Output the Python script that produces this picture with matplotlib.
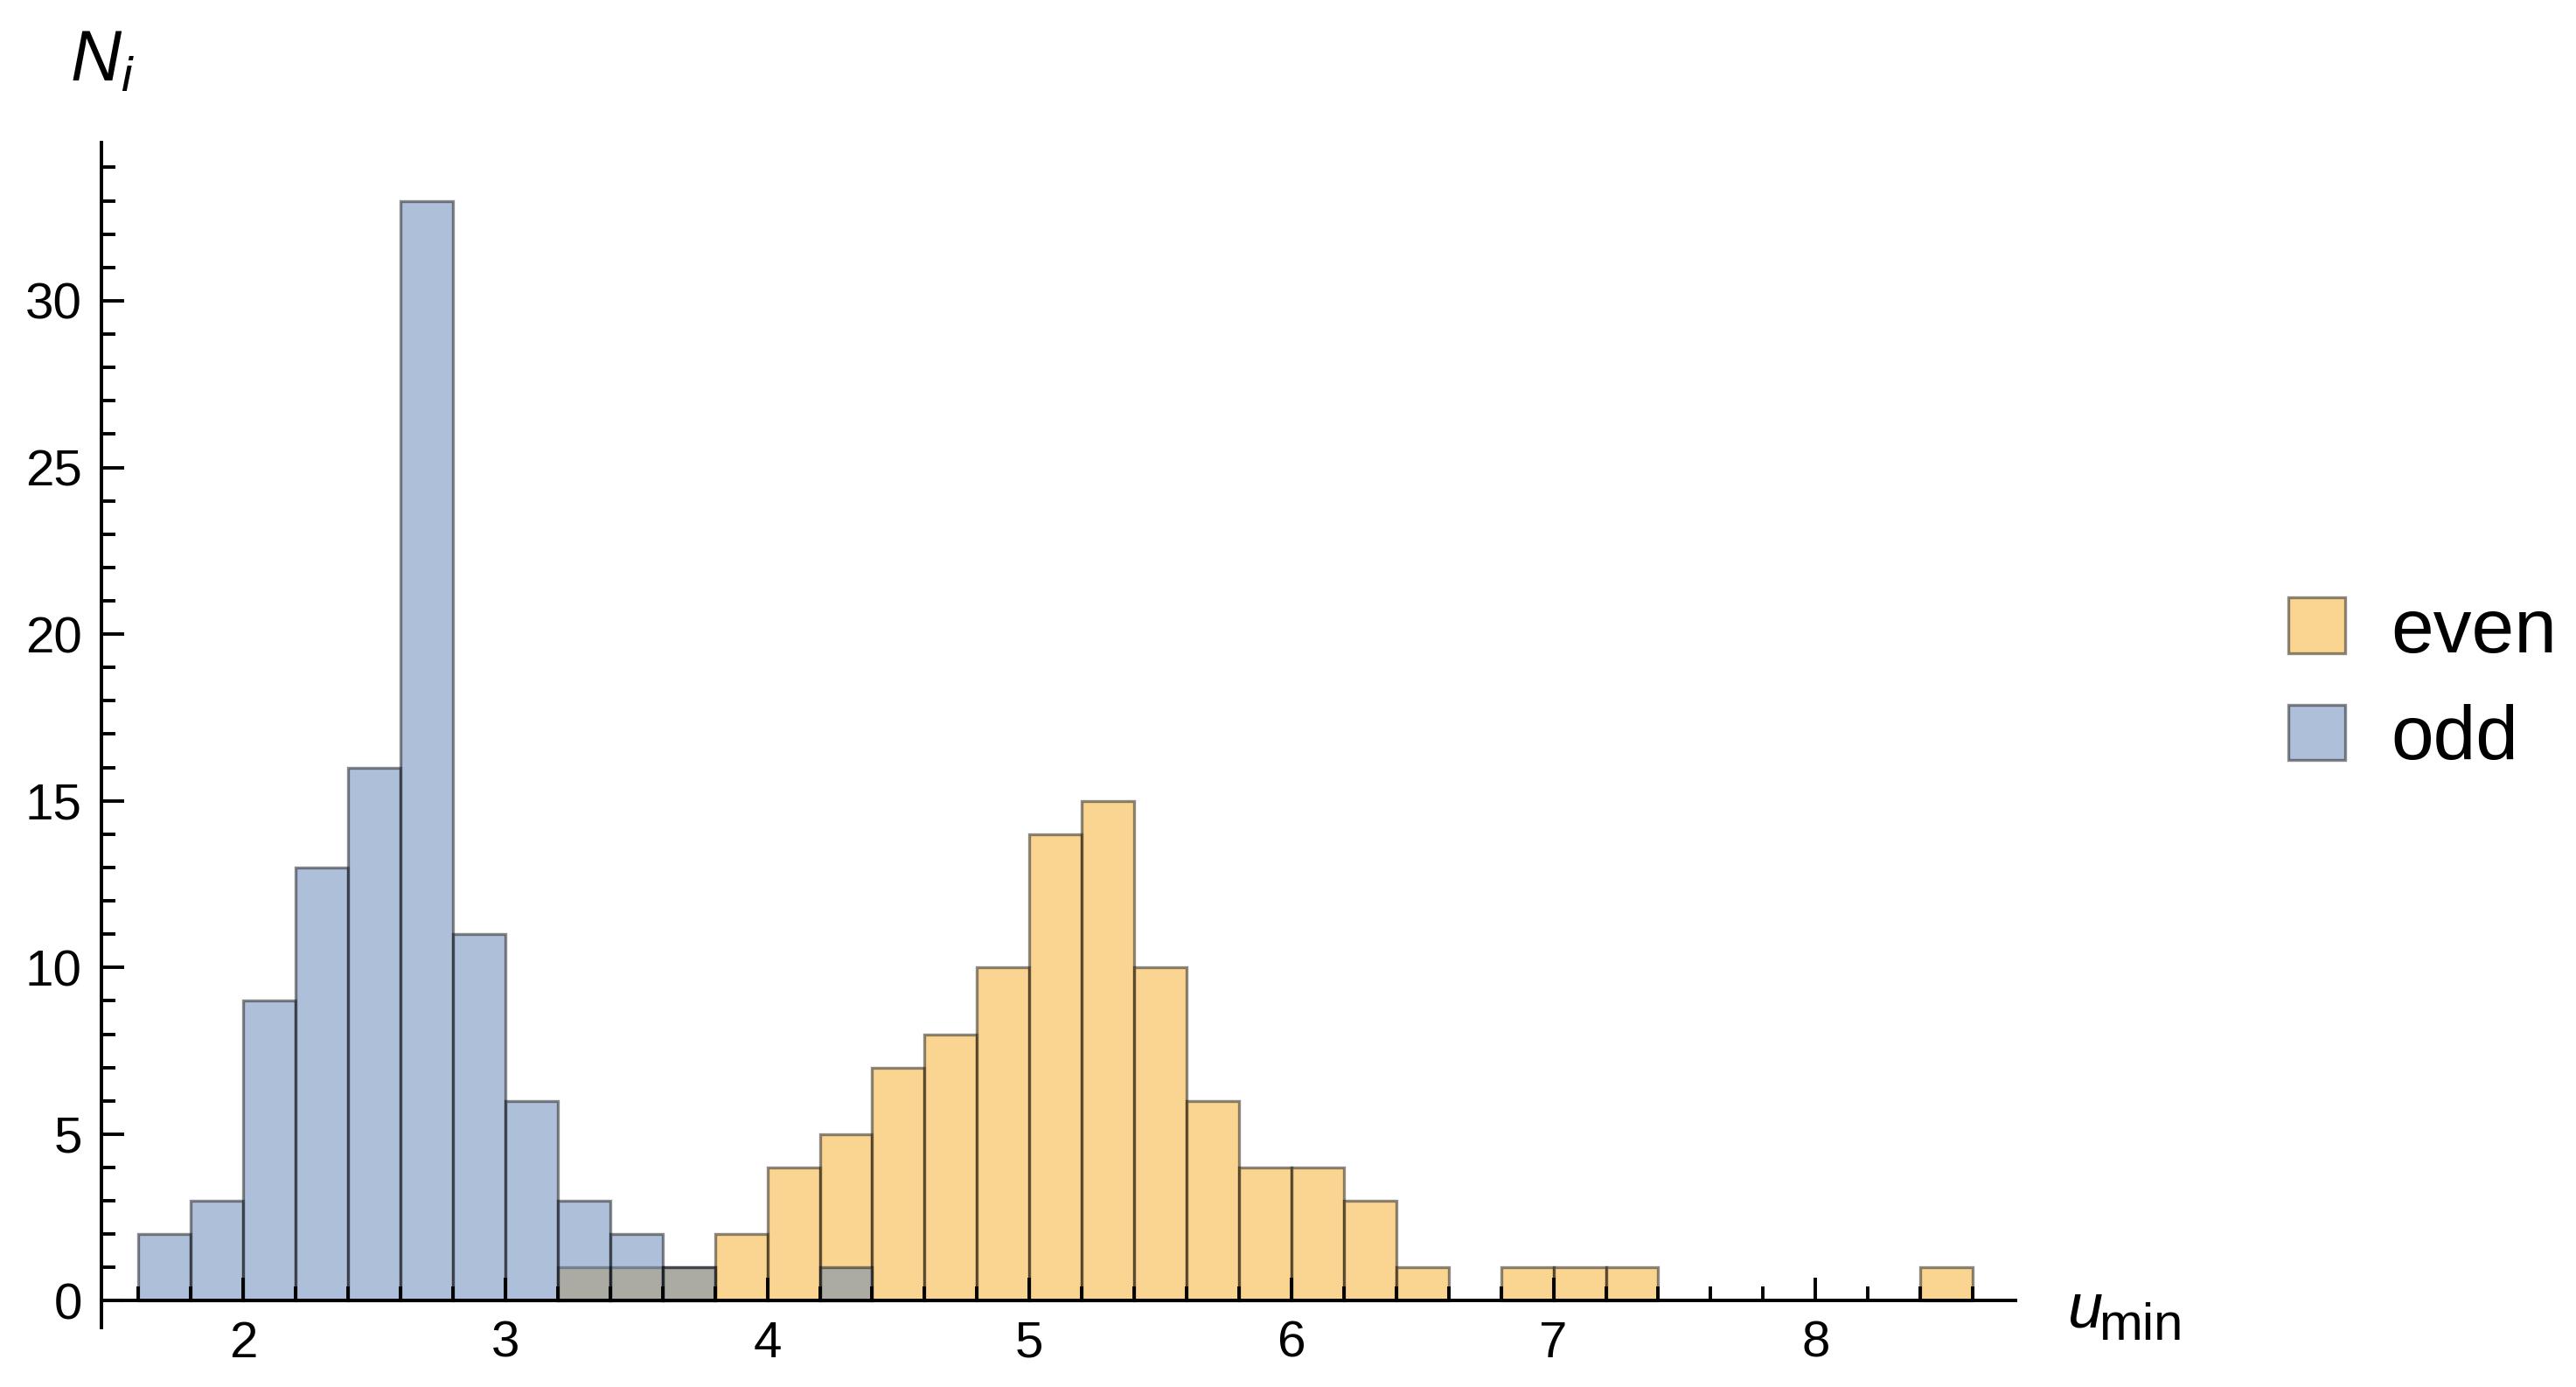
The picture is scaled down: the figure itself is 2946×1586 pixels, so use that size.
import numpy as np
import matplotlib
matplotlib.use("Agg")
import matplotlib.pyplot as plt
from matplotlib.ticker import MultipleLocator, FixedLocator
from matplotlib.patches import Patch

# ---- data ----
bin_width = 0.2
odd_bin_left = [1.6, 1.8, 2.0, 2.2, 2.4, 2.6, 2.8, 3.0, 3.2, 3.4, 3.6, 4.2]
odd_counts = [2, 3, 9, 13, 16, 33, 11, 6, 3, 2, 1, 1]
even_bin_left = [3.2, 3.4, 3.6, 3.8, 4.0, 4.2, 4.4, 4.6, 4.8, 5.0, 5.2, 5.4,
                 5.6, 5.8, 6.0, 6.2, 6.4, 6.8, 7.0, 7.2, 8.4]
even_counts = [1, 1, 1, 2, 4, 5, 7, 8, 10, 14, 15, 10,
               6, 4, 4, 3, 1, 1, 1, 1, 1]
legend_labels = ["even", "odd"]
x_ticks = [2, 3, 4, 5, 6, 7, 8]
y_ticks = [0, 5, 10, 15, 20, 25, 30]

plt.rcParams['font.family'] = ['Liberation Sans', 'DejaVu Sans']
plt.rcParams['mathtext.fontset'] = 'custom'
plt.rcParams['mathtext.rm'] = 'Liberation Sans'
plt.rcParams['mathtext.it'] = 'Liberation Sans:italic'

DPI = 200
fig = plt.figure(figsize=(2946 / DPI, 1586 / DPI), dpi=DPI)
ax = fig.add_axes([0.0394, 0.0429, 0.743, 0.8544])

blue_face = (94 / 255, 129 / 255, 181 / 255, 0.5)
orange_face = (247 / 255, 173 / 255, 37 / 255, 0.5)
edge = (0.0, 0.0, 0.0, 0.45)
elw = 1.2

ax.bar(even_bin_left, even_counts, width=bin_width, align='edge',
       facecolor=orange_face, edgecolor=edge, linewidth=elw)
ax.bar(odd_bin_left, odd_counts, width=bin_width, align='edge',
       facecolor=blue_face, edgecolor=edge, linewidth=elw)

ax.set_xlim(1.459, 8.763)
ax.set_ylim(-0.8, 34.75)

for s in ['top', 'right']:
    ax.spines[s].set_visible(False)
ax.spines['bottom'].set_position(('data', 0))
for s in ['left', 'bottom']:
    ax.spines[s].set_linewidth(1.4)

ax.xaxis.set_major_locator(FixedLocator(x_ticks))
ax.xaxis.set_minor_locator(MultipleLocator(0.2))
ax.yaxis.set_major_locator(FixedLocator(y_ticks))
ax.yaxis.set_minor_locator(MultipleLocator(1))
ax.tick_params(axis='both', which='both', direction='in', width=1.4)
ax.tick_params(axis='both', which='major', length=9.2)
ax.tick_params(axis='both', which='minor', length=5.6)
ax.tick_params(axis='x', which='major', labelsize=21, pad=8)
ax.tick_params(axis='y', which='major', labelsize=21, pad=8)

fig.text(0.027, 0.979, r'$N_{i}$', fontsize=29, ha='left', va='top')
fig.text(2365 / 2946, 1 - 1518 / 1586, 'u', fontsize=26, style='italic',
         ha='left', va='baseline')
fig.text(2400 / 2946, 1 - 1532 / 1586, 'min', fontsize=21.5,
         ha='left', va='baseline')

handles = [Patch(facecolor=orange_face, edgecolor=edge, linewidth=elw),
           Patch(facecolor=blue_face, edgecolor=edge, linewidth=elw)]
fig.legend(handles, legend_labels, loc='center left', bbox_to_anchor=(0.8764, 0.5055),
           frameon=False, fontsize=31.5, handlelength=0.74, handleheight=0.74,
           handletextpad=0.6, labelspacing=0.47, borderaxespad=0)

fig.savefig('out.png', dpi=DPI)
